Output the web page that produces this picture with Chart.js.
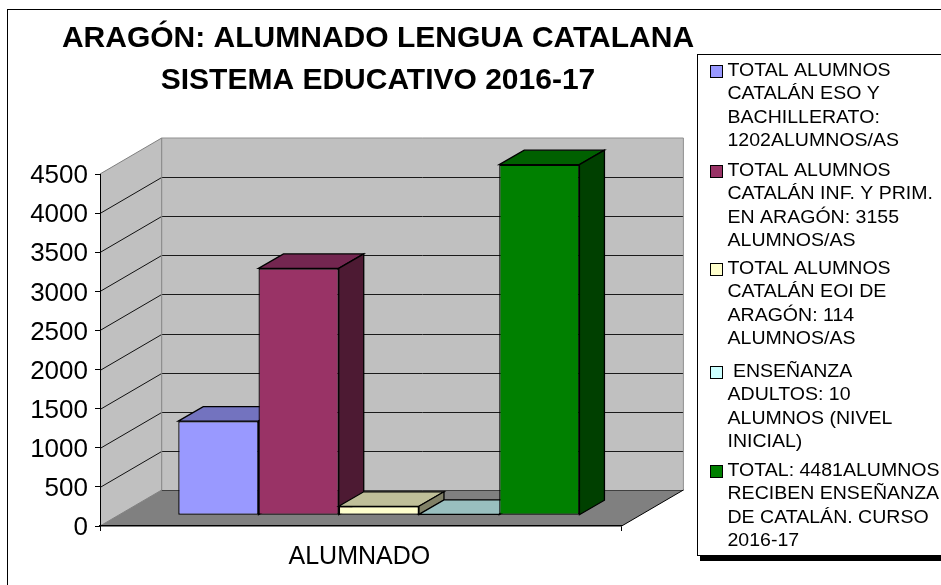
<!DOCTYPE html>
<html><head><meta charset="utf-8">
<style>html,body{margin:0;padding:0;background:#fff;overflow:hidden}canvas{display:block}</style>
<script src="https://cdn.jsdelivr.net/npm/chart.js@4"></script>
</head><body><canvas id="c" width="941" height="585"></canvas>
<script>
const categories = ['ALUMNADO'];
const valuesEso = [1202];
const valuesPrimaria = [3155];
const valuesEoi = [114];
const valuesAdultos = [10];
const valuesTotal = [4481];
const labelEso = ['TOTAL ALUMNOS','CATALÁN ESO Y','BACHILLERATO:','1202ALUMNOS/AS'];
const labelPrimaria = ['TOTAL ALUMNOS','CATALÁN INF. Y PRIM.','EN ARAGÓN: 3155','ALUMNOS/AS'];
const labelEoi = ['TOTAL ALUMNOS','CATALÁN EOI DE','ARAGÓN: 114','ALUMNOS/AS'];
const labelAdultos = [' ENSEÑANZA','ADULTOS: 10','ALUMNOS (NIVEL','INICIAL)'];
const labelTotal = ['TOTAL: 4481ALUMNOS','RECIBEN ENSEÑANZA','DE CATALÁN. CURSO','2016-17'];
const titleLines = ['ARAGÓN: ALUMNADO LENGUA CATALANA','SISTEMA EDUCATIVO 2016-17'];
const colFront = ['#9999FF','#993366','#FFFFCC','#CCFFFF','#008000'];
const colTop = ['#7373BF','#732650','#BFBF99','#99BFBF','#006000'];
const colSide = ['#4D4D80','#4D1A33','#808066','#668080','#004000'];
const seriesValues = [valuesEso,valuesPrimaria,valuesEoi,valuesAdultos,valuesTotal];
const seriesLabels = [labelEso,labelPrimaria,labelEoi,labelAdultos,labelTotal];

const WALL_DX = 61.7, WALL_DY = 36;      // floor depth
const BAR_OFF_X = 18, BAR_OFF_Y = 10.8; // bar front plane
const BAR_DX = 25, BAR_DY = 14.5;         // bar depth
const FONT = '"Liberation Sans", Arial, sans-serif';

function poly(ctx, pts, fill, stroke, lw){
  ctx.beginPath();
  pts.forEach((p,i)=> i?ctx.lineTo(p[0],p[1]):ctx.moveTo(p[0],p[1]));
  ctx.closePath();
  if(fill){ctx.fillStyle=fill;ctx.fill();}
  if(stroke){ctx.strokeStyle=stroke;ctx.lineWidth=lw||1;ctx.stroke();}
}
function line(ctx,x1,y1,x2,y2,c){
  ctx.beginPath();ctx.moveTo(x1,y1);ctx.lineTo(x2,y2);ctx.strokeStyle=c;ctx.lineWidth=1;ctx.stroke();
}

const scene = {
  id:'scene',
  afterLayout(chart){
    chart.titleBlock.left = 0; chart.titleBlock.right = 756;
  },
  beforeDraw(chart){
    const ctx = chart.ctx;
    ctx.save();
    ctx.fillStyle='#fff';ctx.fillRect(0,0,941,585);
    ctx.strokeStyle='#000';ctx.lineWidth=1;
    ctx.strokeRect(7.5,9.5,1000,700);
    const {left:l,right:r,top:t,bottom:b} = chart.chartArea;
    const dx=WALL_DX, dy=WALL_DY;
    poly(ctx,[[l,t],[l+dx,t-dy],[l+dx,b-dy],[l,b]],'#C0C0C0');
    poly(ctx,[[l+dx,t-dy],[r+dx,t-dy],[r+dx,b-dy],[l+dx,b-dy]],'#C0C0C0');
    poly(ctx,[[l,b],[r,b],[r+dx,b-dy],[l+dx,b-dy]],'#808080');
    const ys = chart.scales.y;
    ys.ticks.forEach(tk=>{
      const y = Math.round(ys.getPixelForValue(tk.value))+.5;
      if(tk.value<ys.max){
        line(ctx,l+dx,y-dy,r+dx,y-dy,tk.value===0?'#404040':'#1a1a1a');
        if(tk.value>0) line(ctx,l,y,l+dx,y-dy,'#111');
      }
    });
    line(ctx,l,t,l+dx,t-dy,'#808080');
    line(ctx,l+dx,t-dy,r+dx,t-dy,'#909090');
    line(ctx,l+dx,t-dy,l+dx,b-dy,'#808080');
    line(ctx,r+dx,t-dy,r+dx,b-dy,'#909090');
    line(ctx,l,b,l+dx,b-dy,'#808080');
    line(ctx,r,b,r+dx,b-dy,'#000');
    ctx.restore();
    // nudge axis text to the reference's position
    chart.scales.y.getLabelItems(chart.chartArea).forEach(it=>{it.textOffset+=2;});
    chart.scales.x.getLabelItems(chart.chartArea).forEach(it=>{it.options.translation[0]-=1.5;});
  },
  beforeDatasetsDraw(chart){
    const ctx = chart.ctx;
    ctx.save();
    ctx.translate(BAR_OFF_X,-BAR_OFF_Y);
    for(let i=0;i<chart.data.datasets.length;i++){
      const meta = chart.getDatasetMeta(i);
      const el = meta.data[0];
      const x1 = el.x-el.width/2, x2 = el.x+el.width/2, yT = el.y, yB = el.base;
      poly(ctx,[[x1,yT],[x1+BAR_DX,yT-BAR_DY],[x2+BAR_DX,yT-BAR_DY],[x2,yT]],colTop[i],'#000',1.3);
      poly(ctx,[[x2,yT],[x2+BAR_DX,yT-BAR_DY],[x2+BAR_DX,yB-BAR_DY],[x2,yB]],colSide[i],'#000',1.3);
      meta.controller.draw();
    }
    ctx.restore();
    return false;
  },
  afterDraw(chart){
    const ctx = chart.ctx;
    ctx.save();
    ctx.fillStyle='#000';ctx.fillRect(700,59,300,502);
    ctx.fillStyle='#fff';ctx.fillRect(697.5,54.5,300,501);
    ctx.strokeStyle='#000';ctx.lineWidth=1;ctx.strokeRect(697.5,54.5,300,501);
    ctx.font='18px '+FONT;ctx.textBaseline='middle';ctx.textAlign='left';
    const starts=[71,171,269,372,471];
    seriesLabels.forEach((lines,i)=>{
      const y0=starts[i];
      ctx.fillStyle=colFront[i];ctx.fillRect(710,y0-5,12,12);
      ctx.strokeStyle='#000';ctx.strokeRect(710.5,y0-5.5,12,12);
      ctx.fillStyle='#000';
      lines.forEach((t,k)=>{
        ctx.save();
        ctx.translate(727.5,y0+k*23.4);
        ctx.scale(1.085,1);
        ctx.fillText(t,0,0);
        ctx.restore();
      });
    });
    ctx.restore();
  }
};

new Chart(document.getElementById('c'),{
  type:'bar',
  data:{labels:categories,datasets:seriesValues.map((v,i)=>({
    label:seriesLabels[i].join(' ').trim(),data:v,
    backgroundColor:colFront[i],borderColor:'#000',borderWidth:1.3,borderSkipped:false,
    categoryPercentage:0.769,barPercentage:1
  }))},
  plugins:[scene],
  options:{
    responsive:false,animation:false,
    layout:{padding:{top:18,left:0,right:319.3,bottom:0}},
    plugins:{
      legend:{display:false},tooltip:{enabled:false},
      title:{display:true,text:titleLines,color:'#000',
        font:{family:FONT,size:30,weight:'bold',lineHeight:'42px'},
        padding:{top:0,bottom:72}}
    },
    scales:{
      x:{
        afterFit(s){s.height=59;},
        grid:{offset:true,drawOnChartArea:false,drawTicks:true,tickLength:5,color:'#000'},
        border:{color:'#000',width:1.5},
        ticks:{color:'#000',font:{family:FONT,size:25},padding:11,maxRotation:0}
      },
      y:{
        min:0,max:4500,
        afterFit(s){s.width=100;},
        grid:{drawOnChartArea:false,drawTicks:true,tickLength:5,color:'#000'},
        border:{color:'#000',width:1},
        ticks:{stepSize:500,color:'#000',font:{family:FONT,size:26},padding:7,callback:v=>String(v)}
      }
    }
  }
});
</script></body></html>
